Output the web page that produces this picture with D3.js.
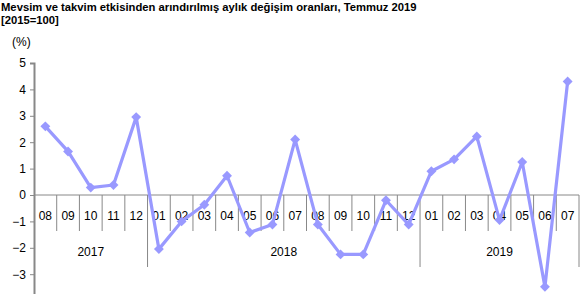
<!DOCTYPE html>
<html>
<head>
<meta charset="utf-8">
<script src="https://cdn.jsdelivr.net/npm/d3@7"></script>
<style>
  body { margin: 0; background: #fff; }
  text { font-family: "Liberation Sans", Arial, sans-serif; }
</style>
</head>
<body>
<div id="chart"></div>
<script>
// data
var months = ["08","09","10","11","12","01","02","03","04","05","06","07","08","09","10","11","12","01","02","03","04","05","06","07"];
var years = ["2017","2018","2019"];
var yearSpan = [5, 12, 7]; // months per year group
var values = [2.6, 1.65, 0.28, 0.38, 2.95, -2.05, -1.0, -0.37, 0.73, -1.42, -1.12, 2.1,
              -1.12, -2.25, -2.25, -0.2, -1.12, 0.9, 1.35, 2.22, -0.95, 1.25, -3.48, 4.3];
var yTicks = [5, 4, 3, 2, 1, 0, -1, -2, -3];

var svgWidth = 582, svgHeight = 294;
var svg = d3.select("#chart").append("svg")
  .attr("width", svgWidth)
  .attr("height", svgHeight);

// title
svg.append("text").attr("x", 1).attr("y", 11)
  .attr("font-size", "11.25px").attr("font-weight", "bold")
  .text("Mevsim ve takvim etkisinden arındırılmış aylık değişim oranları, Temmuz 2019");
svg.append("text").attr("x", 1).attr("y", 24)
  .attr("font-size", "11.25px").attr("font-weight", "bold")
  .text("[2015=100]");
svg.append("text").attr("x", 12).attr("y", 46)
  .attr("font-size", "12px")
  .text("(%)");

var x0 = 34, x1 = 579;
var x = d3.scaleBand().domain(d3.range(months.length)).range([x0, x1]);
var y = d3.scaleLinear().domain([-4, 5]).range([300.6, 63]);
var zeroY = y(0);
var axisColor = "#888";

// y axis
var yAxis = svg.append("g").attr("transform", `translate(${x0},0)`)
  .call(d3.axisLeft(y).tickValues(yTicks).tickSize(4).tickPadding(4).tickFormat(d3.format("d")));
yAxis.select(".domain").attr("stroke", axisColor).attr("stroke-width", 2);
yAxis.selectAll(".tick line").attr("stroke", axisColor);
yAxis.selectAll(".tick text").attr("font-size", "12px").attr("fill", "#000")
  .attr("font-family", "Liberation Sans, Arial, sans-serif");

// x axis line at zero
svg.append("line")
  .attr("x1", x0).attr("x2", x1)
  .attr("y1", zeroY).attr("y2", zeroY)
  .attr("stroke", axisColor).attr("stroke-width", 1);

// month tick lines
var bounds = [];
var acc = 0;
yearSpan.forEach(function(n) { bounds.push(acc); acc += n; });
bounds.push(acc);

d3.range(1, months.length + 1).forEach(function(i) {
  var xi = i < months.length ? x(i) : x1;
  var isYear = bounds.indexOf(i) >= 0;
  svg.append("line")
    .attr("x1", xi).attr("x2", xi)
    .attr("y1", zeroY).attr("y2", isYear ? 267 : 231)
    .attr("stroke", axisColor).attr("stroke-width", 1);
});

// month labels
svg.selectAll(".month").data(months).enter().append("text")
  .attr("class", "month")
  .attr("x", (d, i) => x(i) + x.bandwidth() / 2)
  .attr("y", 220)
  .attr("text-anchor", "middle")
  .attr("font-size", "12px")
  .text(d => d);

// year labels
svg.selectAll(".year").data(years).enter().append("text")
  .attr("class", "year")
  .attr("x", (d, i) => {
    var a = x(bounds[i]);
    var b = bounds[i + 1] < months.length ? x(bounds[i + 1]) : x1;
    return (a + b) / 2;
  })
  .attr("y", 256)
  .attr("text-anchor", "middle")
  .attr("font-size", "12px")
  .text(d => d);

// line
var lineColor = "#9999ff";
var line = d3.line()
  .x((d, i) => x(i) + x.bandwidth() / 2)
  .y(d => y(d));

svg.append("path").datum(values)
  .attr("d", line)
  .attr("fill", "none")
  .attr("stroke", lineColor)
  .attr("stroke-width", 3.2)
  .attr("stroke-linejoin", "round");

// diamond markers
svg.selectAll(".pt").data(values).enter().append("path")
  .attr("class", "pt")
  .attr("transform", (d, i) => `translate(${x(i) + x.bandwidth() / 2},${y(d)}) rotate(45)`)
  .attr("d", "M-3.5,-3.5H3.5V3.5H-3.5Z")
  .attr("fill", lineColor);
</script>
</body>
</html>
